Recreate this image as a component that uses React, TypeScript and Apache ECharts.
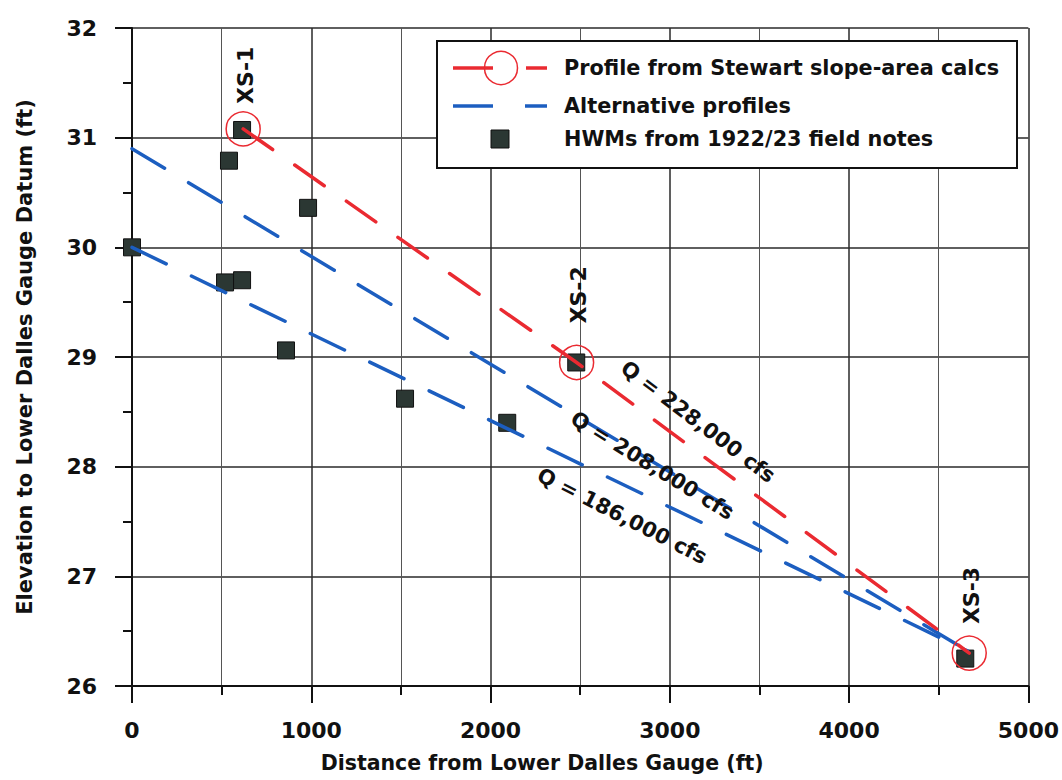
import React, { useEffect, useRef } from "react";
import * as echarts from "echarts";

// High-water marks from 1922/23 field notes
const hwmX = [0, 541, 519, 614, 614, 859, 982, 1523, 2093, 2478, 4648];
const hwmY = [30.0, 30.79, 29.68, 29.7, 31.07, 29.06, 30.36, 28.62, 28.4, 28.95, 26.25];

// Profile from Stewart slope-area calcs (cross sections)
const stewartX = [620, 2480, 4670];
const stewartY = [31.08, 28.95, 26.3];
const xsLabels = ["XS-1", "XS-2", "XS-3"];

// Alternative profiles
const alt208X = [0, 4660];
const alt208Y = [30.9, 26.32];
const alt186X = [0, 4660];
const alt186Y = [30.0, 26.32];

// Discharge annotations (placed along each profile)
const qLabels = ["Q = 228,000 cfs", "Q = 208,000 cfs", "Q = 186,000 cfs"];
const qLabelX = [3158, 2902, 2734];
const qLabelY = [28.41, 28.01, 27.55];

const legendLabels = [
  "Profile from Stewart slope-area calcs",
  "Alternative profiles",
  "HWMs from 1922/23 field notes",
];

const RED = "#ea2a31";
const BLUE = "#1c5ec0";
const FONT = '"DejaVu Sans", Arial, sans-serif';

const zip = (xs: number[], ys: number[]) => xs.map((x, i) => [x, ys[i]]);

export default function App() {
  const ref = useRef<HTMLDivElement>(null);

  useEffect(() => {
    document.body.style.margin = "0";
    const chart = echarts.init(ref.current!, undefined, { renderer: "svg" });

    const axisText = { fontFamily: FONT, fontWeight: "bold", fontSize: 22, color: "#111" };

    chart.setOption({
      animation: false,
      backgroundColor: "#fff",
      grid: { left: 132, right: 33, top: 28, bottom: 94 },
      xAxis: {
        type: "value",
        min: 0,
        max: 5000,
        interval: 1000,
        name: "Distance from Lower Dalles Gauge (ft)",
        nameLocation: "middle",
        nameGap: 66,
        nameTextStyle: {
          fontFamily: FONT,
          fontWeight: "bold",
          fontSize: 20.5,
          color: "#111",
          padding: [0, 76, 0, 0],
        },
        axisLine: { onZero: false, lineStyle: { color: "#111", width: 2 } },
        axisTick: { length: 17, lineStyle: { color: "#111", width: 2 } },
        minorTick: { show: true, splitNumber: 2, length: 9, lineStyle: { color: "#111", width: 2 } },
        splitLine: { show: true, lineStyle: { color: "#2a2a2a", width: 1.5 } },
        minorSplitLine: { show: true, lineStyle: { color: "#555", width: 1 } },
        axisLabel: { ...axisText, margin: 33, formatter: (v: number) => String(v) },
      },
      yAxis: {
        type: "value",
        min: 26,
        max: 32,
        interval: 1,
        name: "Elevation to Lower Dalles Gauge Datum (ft)",
        nameLocation: "middle",
        nameGap: 97,
        nameTextStyle: { fontFamily: FONT, fontWeight: "bold", fontSize: 21, color: "#111" },
        axisLine: { onZero: false, lineStyle: { color: "#111", width: 2 } },
        axisTick: { length: 17, lineStyle: { color: "#111", width: 2 } },
        minorTick: { show: true, splitNumber: 2, length: 9, lineStyle: { color: "#111", width: 2 } },
        splitLine: { show: true, lineStyle: { color: "#2a2a2a", width: 1.5 } },
        minorSplitLine: { show: false },
        axisLabel: { ...axisText, margin: 35, formatter: (v: number) => String(v) },
      },
      series: [
        {
          name: "HWMs from 1922/23 field notes",
          type: "scatter",
          data: zip(hwmX, hwmY),
          symbol: "rect",
          symbolSize: 17,
          itemStyle: { color: "#2b3733", borderColor: "#111", borderWidth: 1, opacity: 1 },
          z: 2,
        },
        {
          name: "Q = 208,000 cfs",
          type: "line",
          data: zip(alt208X, alt208Y),
          showSymbol: false,
          symbol: "none",
          lineStyle: { color: BLUE, width: 3.5, type: [38, 28], cap: "round" },
          z: 3,
        },
        {
          name: "Q = 186,000 cfs",
          type: "line",
          data: zip(alt186X, alt186Y),
          showSymbol: false,
          symbol: "none",
          lineStyle: { color: BLUE, width: 3.5, type: [38, 28], cap: "round" },
          z: 3,
        },
        {
          name: "Profile from Stewart slope-area calcs",
          type: "line",
          data: zip(stewartX, stewartY),
          symbol: "circle",
          symbolSize: 34,
          itemStyle: { color: "rgba(0,0,0,0)", borderColor: RED, borderWidth: 1.5 },
          lineStyle: { color: RED, width: 3.5, type: [36, 27], cap: "round" },
          z: 4,
        },
      ],
    });

    // annotations anchored on data coordinates
    const px = (x: number, y: number) => chart.convertToPixel({ gridIndex: 0 }, [x, y]) as number[];
    const angleOf = (x1: number, y1: number, x2: number, y2: number) => {
      const a = px(x1, y1);
      const b = px(x2, y2);
      return -Math.atan2(b[1] - a[1], b[0] - a[0]);
    };
    const qAngles = [
      angleOf(stewartX[1], stewartY[1], stewartX[2], stewartY[2]),
      angleOf(alt208X[0], alt208Y[0], alt208X[1], alt208Y[1]),
      angleOf(alt186X[0], alt186Y[0], alt186X[1], alt186Y[1]),
    ];
    const xsGap = [25, 39, 29];

    const graphics: any[] = [];
    stewartX.forEach((x, i) => {
      const p = px(x, stewartY[i]);
      graphics.push({
        type: "text",
        x: p[0] + 2,
        y: p[1] - xsGap[i],
        rotation: Math.PI / 2,
        z: 10,
        style: {
          text: xsLabels[i],
          fontFamily: FONT,
          fontWeight: "bold",
          fontSize: 22,
          fill: "#111",
          align: "left",
          verticalAlign: "middle",
        },
      });
    });
    qLabels.forEach((t, i) => {
      const p = px(qLabelX[i], qLabelY[i]);
      graphics.push({
        type: "text",
        x: p[0],
        y: p[1],
        rotation: qAngles[i] - (i === 2 ? 0.02 : 0.01),
        z: 10,
        style: {
          text: t,
          fontFamily: FONT,
          fontWeight: "bold",
          fontSize: 21,
          fill: "#111",
          align: "center",
          verticalAlign: "middle",
        },
      });
    });

    // legend box
    const lx = 437, ly = 41, lw = 580, lh = 127;
    graphics.push({
      type: "rect",
      shape: { x: lx, y: ly, width: lw, height: lh },
      style: { fill: "#fff", stroke: "#111", lineWidth: 2 },
      z: 20,
    });
    const rowY = [68, 106, 139];
    graphics.push(
      { type: "line", shape: { x1: 453, y1: rowY[0], x2: 493, y2: rowY[0] }, style: { stroke: RED, lineWidth: 3.5 }, z: 21 },
      { type: "line", shape: { x1: 526, y1: rowY[0], x2: 547, y2: rowY[0] }, style: { stroke: RED, lineWidth: 3.5 }, z: 21 },
      { type: "circle", shape: { cx: 501, cy: rowY[0], r: 16.5 }, style: { fill: "none", stroke: RED, lineWidth: 1.5 }, z: 21 },
      { type: "line", shape: { x1: 453, y1: rowY[1], x2: 493, y2: rowY[1] }, style: { stroke: BLUE, lineWidth: 3.5 }, z: 21 },
      { type: "line", shape: { x1: 525, y1: rowY[1], x2: 547, y2: rowY[1] }, style: { stroke: BLUE, lineWidth: 3.5 }, z: 21 },
      { type: "rect", shape: { x: 491, y: rowY[2] - 9, width: 18, height: 18 }, style: { fill: "#2b3733", stroke: "#111", lineWidth: 1 }, z: 21 }
    );
    legendLabels.forEach((t, i) => {
      graphics.push({
        type: "text",
        x: 564,
        y: rowY[i],
        z: 22,
        style: {
          text: t,
          fontFamily: FONT,
          fontWeight: "bold",
          fontSize: 20.8,
          fill: "#111",
          align: "left",
          verticalAlign: "middle",
        },
      });
    });

    chart.setOption({ graphic: graphics });

    return () => chart.dispose();
  }, []);

  return (
    <div
      ref={ref}
      style={{ position: "absolute", left: 0, top: 0, width: 1062, height: 780, background: "#fff" }}
    />
  );
}
